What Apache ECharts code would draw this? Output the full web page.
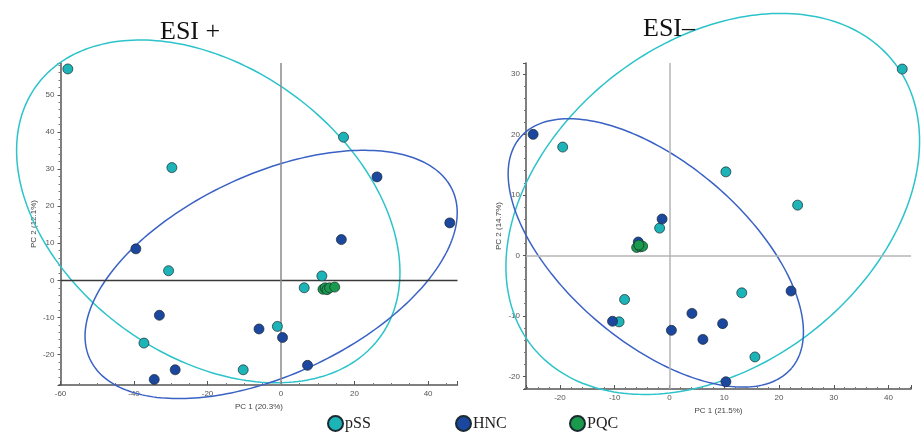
<!DOCTYPE html>
<html>
<head>
<meta charset="utf-8">
<script src="https://cdn.jsdelivr.net/npm/echarts@6/dist/echarts.min.js"></script>
<style>
html,body{margin:0;padding:0;background:#fff;}
#chart{width:922px;height:433px;}
</style>
</head>
<body>
<div id="chart"></div>
<script>
// ---- Data ----
const groups = ['pSS', 'HNC', 'PQC'];
const titles = ['ESI +', 'ESI–'];
const axisNamesLeft = ['PC 1 (20.3%)', 'PC 2 (12.1%)'];
const axisNamesRight = ['PC 1 (21.5%)', 'PC 2 (14.7%)'];

// ESI+ scores [PC1, PC2]
const posPSS = [[-58.0,57.0],[-29.7,30.4],[-30.6,2.6],[-37.3,-16.9],[-10.3,-24.1],[17.0,38.6],[11.1,1.2],[6.3,-2.0],[-1.0,-12.4]];
const posHNC = [[-39.5,8.5],[-33.1,-9.4],[-28.8,-24.1],[-34.5,-26.7],[-6.0,-13.1],[26.1,27.9],[45.9,15.5],[16.4,11.0],[0.4,-15.4],[7.2,-22.9]];
const posPQC = [[11.4,-2.4],[12.0,-2.0],[12.5,-2.5],[13.2,-2.0],[14.6,-1.8]];

// ESI- scores [PC1, PC2]
const negPSS = [[-19.5,17.9],[-1.8,4.5],[-8.2,-7.3],[-9.2,-11.0],[42.5,30.8],[10.3,13.8],[23.4,8.3],[13.2,-6.2],[15.6,-16.8]];
const negHNC = [[-24.9,20.0],[-1.35,6.0],[-5.7,2.2],[-10.4,-10.9],[0.35,-12.4],[22.2,-5.9],[4.1,-9.6],[9.7,-11.3],[6.1,-13.9],[10.3,-20.9]];
const negPQC = [[-6.0,1.3],[-5.3,1.4],[-4.9,1.5],[-5.6,1.7]];

// confidence ellipses: [centerX, centerY, semiAxis1X, semiAxis1Y, semiAxis2X, semiAxis2Y] in data units
const posEllPSS = [-19.8, 18.6, 46.8, -33.8, 23.0, 31.5];
const posEllHNC = [-2.7, 1.6, 49.3, 22.8, -11.5, 24.5];
const negEllPSS = [7.9, 8.5, 33.2, 23.3, -18.0, 21.2];
const negEllHNC = [-2.5, 0.4, 24.8, -19.05, 10.57, 11.37];

// axis extents and tick steps
const posX = [-60, 48], posY = [-28.2, 58.6];
const negX = [-26.2, 44.1], negY = [-22.1, 31.8];
const posStep = [20, 10], negStep = [10, 10];

// ---- Styles ----
const colPSS = '#1db4b8', colHNC = '#1c479e', colPQC = '#199a4c';
const ellPSS = '#2cc3ca', ellHNC = '#3a62c4';

function ellipse(e){
  const pts = [];
  const n = 240;
  for (let i = 0; i <= n; i++) {
    const t = i / n * 2 * Math.PI;
    pts.push([e[0] + Math.cos(t)*e[2] + Math.sin(t)*e[4], e[1] + Math.cos(t)*e[3] + Math.sin(t)*e[5]]);
  }
  return pts;
}

const tickFont = {fontFamily:'Liberation Sans', fontSize:8, color:'#555'};
function stepFormatter(step){
  return function(v){
    const r = Math.round(v / step) * step;
    return Math.abs(v - r) < 1e-6 ? String(r) : '';
  };
}

function xAx(gi, ext, step, name, extra, minorN, gap){
  return Object.assign({
    gridIndex: gi, type:'value', min: ext[0], max: ext[1],
    name: name, nameLocation:'middle', nameGap: gap,
    nameTextStyle: {fontFamily:'Liberation Sans', fontSize:8, color:'#444'},
    axisLine: {show:true, onZero:false, lineStyle:{color:'#555', width:1.5}},
    axisTick: {show:true, inside:true, length:4, lineStyle:{color:'#555'}},
    minorTick: {show:true, splitNumber:minorN, length:2, lineStyle:{color:'#777'}},
    axisLabel: Object.assign({margin:5, formatter: stepFormatter(step)}, tickFont),
    splitLine: {show:false}
  }, extra||{});
}
function yAx(gi, ext, step, name, extra, minorN){
  return Object.assign({
    gridIndex: gi, type:'value', min: ext[0], max: ext[1],
    name: name, nameLocation:'middle', nameGap: 23, nameRotate: 90,
    nameTextStyle: {fontFamily:'Liberation Sans', fontSize:8, color:'#444'},
    axisLine: {show:true, onZero:false, lineStyle:{color:'#555', width:1.5}},
    axisTick: {show:true, inside:false, length:3, lineStyle:{color:'#555'}},
    minorTick: {show:true, splitNumber:minorN, length:2, lineStyle:{color:'#777'}},
    axisLabel: Object.assign({margin:6, formatter: stepFormatter(step)}, tickFont),
    splitLine: {show:false}
  }, extra||{});
}

function scatter(name, data, color, gi){
  return {
    name: name, type:'scatter', xAxisIndex: gi, yAxisIndex: gi, data: data,
    symbol:'circle', symbolSize: 10, z: 5,
    itemStyle: {color: color, borderColor:'#1a2a30', borderWidth:0.7, opacity:1}
  };
}
function ell(name, e, color, gi){
  const pts = ellipse(e);
  return {
    name: name, type:'custom', xAxisIndex: gi, yAxisIndex: gi, data: [[e[0], e[1]]],
    clip:false, silent:true, z: 3,
    renderItem: function(params, api){
      return {
        type:'polyline',
        shape:{points: pts.map(function(p){ return api.coord(p); })},
        style:{stroke: color, lineWidth: 1.5, fill: 'none'}
      };
    }
  };
}
function zeroLines(gi, hColor, vColor, hW, vW){
  return {
    type:'line', xAxisIndex: gi, yAxisIndex: gi, data: [], silent:true, z:2,
    markLine: {
      silent:true, symbol:['none','none'], label:{show:false},
      data: [
        {yAxis:0, lineStyle:{color:hColor, width:hW, type:'solid'}},
        {xAxis:0, lineStyle:{color:vColor, width:vW, type:'solid'}}
      ]
    }
  };
}

const legendBase = {
  orient:'horizontal', itemWidth:15, itemHeight:15, padding:0, itemGap:0, icon:'circle',
  top: 415, textStyle:{fontFamily:'Liberation Serif', fontSize:16, color:'#222', padding:[0,0,0,-3]}
};

const option = {
  animation: false,
  backgroundColor: '#fff',
  title: [
    {text: titles[0], left:160, top:19, padding:0, textStyle:{fontFamily:'Liberation Serif', fontSize:26, fontWeight:'normal', color:'#111'}},
    {text: titles[1], left:643, top:16, padding:0, textStyle:{fontFamily:'Liberation Serif', fontSize:26, fontWeight:'normal', color:'#111'}}
  ],
  legend: [
    Object.assign({}, legendBase, {left:327, data:[groups[0]]}),
    Object.assign({}, legendBase, {left:455, data:[groups[1]]}),
    Object.assign({}, legendBase, {left:569, data:[groups[2]]})
  ],
  grid: [
    {left:60.5, top:63, width:397, height:322},
    {left:526, top:63, width:385, height:326}
  ],
  xAxis: [
    xAx(0, posX, posStep[0], axisNamesLeft[0], {interval:20}, 4, 14),
    xAx(1, negX, negStep[0], axisNamesRight[0], {splitNumber:7}, 5, 12)
  ],
  yAxis: [
    yAx(0, posY, posStep[1], axisNamesLeft[1], {splitNumber:9}, 5),
    yAx(1, negY, negStep[1], axisNamesRight[1], {splitNumber:5}, 5)
  ],
  series: [
    zeroLines(0, '#3a3a3a', '#8a8a8a', 1.3, 1.5),
    zeroLines(1, '#b5b5b5', '#b5b5b5', 1.5, 1.5),
    ell('pSS ellipse', posEllPSS, ellPSS, 0),
    ell('HNC ellipse', posEllHNC, ellHNC, 0),
    ell('pSS ellipse', negEllPSS, ellPSS, 1),
    ell('HNC ellipse', negEllHNC, ellHNC, 1),
    scatter(groups[0], posPSS, colPSS, 0),
    scatter(groups[1], posHNC, colHNC, 0),
    scatter(groups[2], posPQC, colPQC, 0),
    scatter(groups[0], negPSS, colPSS, 1),
    scatter(groups[1], negHNC, colHNC, 1),
    scatter(groups[2], negPQC, colPQC, 1)
  ]
};

const chart = echarts.init(document.getElementById('chart'), null, {renderer:'canvas'});
chart.setOption(option);
</script>
</body>
</html>
